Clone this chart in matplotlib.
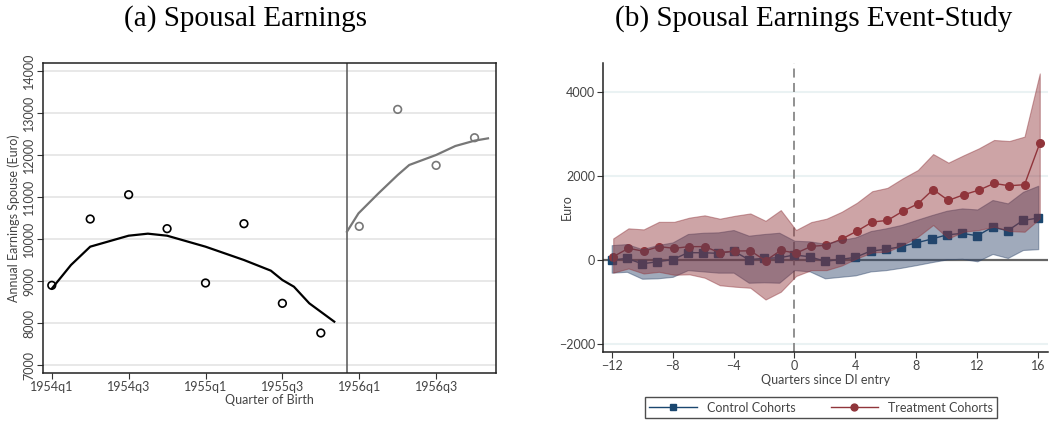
import numpy as np
import matplotlib.pyplot as plt

# ---- panel (a): spousal earnings by quarter of birth
qob = [0, 1, 2, 3, 4, 5, 6, 7, 8, 9, 10, 11]
qob_labels = ['1954q1', '1954q3', '1955q1', '1955q3', '1956q1', '1956q3']
earn = [8900, 10476, 11054, 10247, 8956, 10365, 8473, 7768,
        10302, 13081, 11751, 12408]
cutoff = 7.68

fit_left_x = [0, 0.5, 1, 2, 2.5, 3, 4, 5, 5.7, 6, 6.3, 6.7, 7.35]
fit_left_y = [8821, 9384, 9819, 10080, 10128, 10080, 9819, 9502, 9249,
              9027, 8868, 8473, 8037]
fit_right_x = [7.68, 7.98, 8.5, 9, 9.3, 10, 10.5, 11, 11.35]
fit_right_y = [10175, 10611, 11086, 11522, 11760, 11998, 12211, 12338, 12393]

# ---- panel (b): event study
quarters = np.arange(-12, 17)
treat = [80, 280, 210, 320, 280, 320, 320, 175, 215, 220, -15, 230, 165,
         325, 355, 500, 690, 905, 945, 1160, 1340, 1680, 1420, 1555, 1665,
         1825, 1770, 1795, 2780]
treat_hi = [515, 755, 730, 910, 910, 1010, 1065, 985, 1055, 1110, 935, 1190,
            715, 905, 985, 1150, 1365, 1640, 1720, 1945, 2145, 2525, 2320,
            2495, 2660, 2860, 2835, 2940, 4445]
treat_lo = [-300, -200, -320, -280, -350, -340, -420, -600, -635, -660, -940,
            -755, -380, -240, -240, -130, 40, 180, 200, 360, 555, 835, 515,
            675, 715, 795, 690, 675, 990]
ctrl = [0, 40, -90, -40, 10, 175, 175, 160, 215, 10, 40, 55, 120, 80, -30,
        15, 65, 215, 255, 320, 410, 500, 600, 635, 580, 785, 700, 945, 1000]
ctrl_hi = [355, 380, 260, 355, 420, 620, 650, 660, 715, 580, 620, 650, 460,
           445, 390, 475, 540, 690, 755, 835, 955, 1070, 1175, 1230, 1205,
           1430, 1350, 1625, 1770]
ctrl_lo = [-300, -280, -445, -435, -400, -240, -270, -300, -300, -540, -530,
           -540, -240, -270, -435, -400, -365, -270, -240, -185, -120, -50,
           15, 30, -30, 145, 50, 240, 260]

navy = '#1a476f'
maroon = '#90353b'
txt = '#444444'

plt.rcParams['font.family'] = ['Lato', 'DejaVu Sans']
plt.rcParams['font.size'] = 9

fig = plt.figure(figsize=(10.54, 4.21), dpi=100)
ax1 = fig.add_axes([0.0411, 0.1147, 0.4292, 0.7363])
ax2 = fig.add_axes([0.5724, 0.1639, 0.4219, 0.6861])

# panel a
for y in range(7000, 14001, 1000):
    ax1.axhline(y, color='#e4e4e4', lw=1.2, zorder=0)
ax1.axvline(cutoff, color='#555555', lw=1.1, zorder=1)
ax1.plot(fit_left_x, fit_left_y, color='black', lw=1.6, zorder=2)
ax1.plot(fit_right_x, fit_right_y, color='#777777', lw=1.6, zorder=2)
ax1.scatter(qob[:8], earn[:8], s=30, facecolors='none', edgecolors='black',
            linewidths=1.2, zorder=3)
ax1.scatter(qob[8:], earn[8:], s=30, facecolors='none', edgecolors='#777777',
            linewidths=1.2, zorder=3)
ax1.set_xlim(-0.22, 11.55)
ax1.set_ylim(6824, 14190)
ax1.set_xticks(range(0, 11, 2))
ax1.set_xticklabels(qob_labels)
ax1.set_yticks(range(7000, 14001, 1000))
ax1.set_yticklabels([str(v) for v in range(7000, 14001, 1000)],
                    rotation=90, va='center')
ax1.tick_params(colors='#333333', labelcolor=txt, length=4, pad=2)
ax1.set_xlabel('Quarter of Birth', color=txt, labelpad=1)
ax1.set_ylabel('Annual Earnings Spouse (Euro)', color=txt, labelpad=2)
for s in ax1.spines.values():
    s.set_color('#222222')
    s.set_linewidth(1.1)

# panel b
for y in [-2000, 2000, 4000]:
    ax2.axhline(y, color='#eaf2f3', lw=1.5, zorder=0)
ax2.axhline(0, color='#666666', lw=1.6, zorder=1)
ax2.axvline(0, color='#888888', lw=1.3, ls=(0, (5, 3)), zorder=1)

xc = quarters
xt = quarters + 0.1
ax2.plot(xc, ctrl, color=navy, lw=1.0, marker='s', ms=5.5, zorder=2,
         label='Control Cohorts')
ax2.plot(xt, treat, color=maroon, lw=1.0, marker='o', ms=5.5, zorder=3,
         label='Treatment Cohorts')
ax2.fill_between(xc, ctrl_lo, ctrl_hi, facecolor='#2d4469', alpha=0.45,
                 lw=0.8, edgecolor='#2d4469', zorder=4)
ax2.fill_between(xt, treat_lo, treat_hi, facecolor=maroon, alpha=0.45,
                 lw=0.8, edgecolor=maroon, zorder=5)

ax2.set_xlim(-12.55, 16.64)
ax2.set_ylim(-2190, 4690)
ax2.set_xticks(range(-12, 17, 4))
ax2.set_yticks([-2000, 0, 2000, 4000])
ax2.tick_params(colors='#333333', labelcolor=txt, length=4, pad=2)
ax2.set_xlabel('Quarters since DI entry', color=txt, labelpad=1)
ax2.set_ylabel('Euro', color=txt)
ax2.yaxis.set_label_coords(-0.068, 0.5)
ax2.spines['top'].set_visible(False)
ax2.spines['right'].set_visible(False)
for s in ['left', 'bottom']:
    ax2.spines[s].set_color('#222222')
    ax2.spines[s].set_linewidth(1.1)

leg = ax2.legend(loc='upper center', bbox_to_anchor=(0.49, -0.135), ncol=2,
                 frameon=True, fancybox=False, edgecolor='#222222',
                 handlelength=3.8, columnspacing=2.8, borderpad=0.35,
                 markerscale=0.9)
leg.get_frame().set_linewidth(1.0)
for t in leg.get_texts():
    t.set_color(txt)

fig.text(0.2325, 0.957, '(a) Spousal Earnings', family='Liberation Serif',
         fontsize=21, ha='center', va='center')
fig.text(0.772, 0.957, '(b) Spousal Earnings Event-Study',
         family='Liberation Serif', fontsize=21, ha='center', va='center')

fig.savefig('out.png', dpi=100)
